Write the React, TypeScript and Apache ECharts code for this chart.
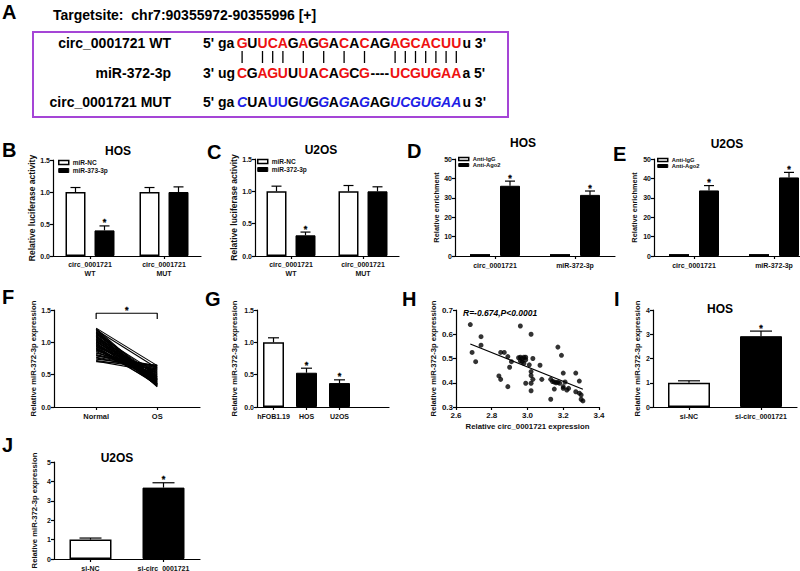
import React, { useEffect, useRef } from 'react';
import * as echarts from 'echarts';

const FONT = "'Liberation Sans', Arial, Helvetica, sans-serif";
const RED = '#ee1111';
const BLUE = '#1f1fe6';
const PURPLE = '#a545d6';

// ---------- Panel A ----------
const targetSite = 'Targetsite:  chr7:90355972-90355996 [+]';
const rowLabels = ['circ_0001721 WT', 'miR-372-3p', 'circ_0001721 MUT'];
const wtSeq = 'GUUCAGAGGACACAGAGCACUU';
const wtMask = 'rkrrrkrkrkrkrkkrrrrrrr';
const mirSeq = 'CGAGUUUACAGCG..UCGUGAA';
const mirMask = 'rkrrrkrkrkrkr..rrrrrrr';
const mutSeq = 'CUAUUGUGGAGAGAGUCGUGAA';
const mutMask = 'bkkBBkbkbkbkbkkbbbbbbb';
const pairPos = [1, 3, 4, 5, 7, 9, 11, 13, 16, 17, 18, 19, 20, 21, 22];

// ---------- Panel B ----------
const bCats = ['circ_0001721\nWT', 'circ_0001721\nMUT'];
const bNC = [1.0, 1.0];
const bNCErr = [0.07, 0.07];
const bMiR = [0.4, 1.0];
const bMiRErr = [0.07, 0.08];
const bStar = [1, 0];

// ---------- Panel C ----------
const cCats = ['circ_0001721\nWT', 'circ_0001721\nMUT'];
const cNC = [1.0, 1.0];
const cNCErr = [0.08, 0.09];
const cMiR = [0.32, 1.0];
const cMiRErr = [0.05, 0.07];
const cStar = [1, 0];

// ---------- Panel D ----------
const dCats = ['circ_0001721', 'miR-372-3p'];
const dIgG = [1, 1];
const dAgo = [36.2, 31.5];
const dAgoErr = [2.4, 2.0];
const dStar = [1, 1];

// ---------- Panel E ----------
const eCats = ['circ_0001721', 'miR-372-3p'];
const eIgG = [1, 1];
const eAgo = [33.8, 40.5];
const eAgoErr = [2.5, 2.6];
const eStar = [1, 1];

// ---------- Panel F ----------
const fCats = ['Normal', 'OS'];
const fNormal = [1.22, 1.21, 1.2, 1.19, 1.18, 1.17, 1.16, 1.15, 1.14, 1.13, 1.12, 1.11, 1.1, 1.09, 1.08, 1.07, 1.06, 1.05, 1.04, 1.03, 1.02, 1.01, 1.0, 0.99, 0.98, 0.97, 0.96, 0.95, 0.94, 0.93, 0.92, 0.91, 0.9, 0.89, 0.88, 0.87, 0.86, 0.84, 0.83, 0.81, 0.8, 0.79, 0.77, 0.76, 0.74, 0.72, 0.71, 0.7];
const fOS = [0.64, 0.38, 0.33, 0.6, 0.35, 0.42, 0.31, 0.47, 0.36, 0.4, 0.52, 0.34, 0.44, 0.38, 0.32, 0.49, 0.41, 0.36, 0.46, 0.33, 0.43, 0.39, 0.51, 0.35, 0.45, 0.37, 0.48, 0.42, 0.34, 0.53, 0.4, 0.44, 0.36, 0.5, 0.47, 0.55, 0.43, 0.58, 0.62, 0.6, 0.56, 0.64, 0.61, 0.57, 0.63, 0.59, 0.54, 0.65];
const fBracket = [1.36, 1.45];

// ---------- Panel G ----------
const gCats = ['hFOB1.19', 'HOS', 'U2OS'];
const gVals = [1.0, 0.53, 0.37];
const gErr = [0.07, 0.07, 0.05];
const gWhite = [1, 0, 0];
const gStar = [0, 1, 1];

// ---------- Panel H ----------
const hX = [2.68, 2.69, 2.74, 2.74, 2.71, 2.85, 2.87, 2.84, 2.85, 2.89, 2.9, 2.91, 2.89, 2.95, 2.96, 2.96, 2.98, 2.99, 2.96, 2.97, 2.98, 2.97, 2.99, 3.01, 3.02, 3.03, 3.02, 3.02, 3.03, 2.99, 3.02, 3.02, 3.07, 3.08, 3.17, 3.19, 3.2, 3.13, 3.14, 3.15, 3.16, 3.17, 3.18, 3.15, 3.13, 3.2, 3.21, 3.2, 3.22, 3.27, 3.27, 3.29, 3.29, 3.3, 3.3, 3.31, 3.23];
const hY = [0.64, 0.525, 0.59, 0.555, 0.487, 0.525, 0.525, 0.428, 0.414, 0.508, 0.464, 0.487, 0.384, 0.503, 0.634, 0.505, 0.505, 0.505, 0.49, 0.487, 0.48, 0.5, 0.495, 0.474, 0.6, 0.5, 0.446, 0.43, 0.414, 0.398, 0.398, 0.367, 0.472, 0.414, 0.547, 0.513, 0.44, 0.414, 0.405, 0.403, 0.4, 0.402, 0.398, 0.374, 0.332, 0.384, 0.403, 0.377, 0.37, 0.44, 0.363, 0.357, 0.407, 0.35, 0.332, 0.325, 0.377];
const hFitX = [2.68, 3.31];
const hFitY = [0.56, 0.373];
const hNote = 'R=-0.674,P<0.0001';

// ---------- Panel I ----------
const iCats = ['si-NC', 'si-circ_0001721'];
const iVals = [1.0, 2.92];
const iErr = [0.08, 0.21];
const iWhite = [1, 0];
const iStar = [0, 1];

// ---------- Panel J ----------
const jCats = ['si-NC', 'si-circ_0001721'];
const jVals = [1.0, 3.68];
const jErr = [0.08, 0.25];
const jWhite = [1, 0];
const jStar = [0, 1];

const WHITE = { color: '#fff', borderColor: '#000', borderWidth: 1.5 };
const BLACK = { color: '#000', borderColor: '#000', borderWidth: 1 };

function txt(x: number, y: number, text: string, size: number, o: any = {}) {
  const align = o.align || 'left';
  const va = o.va || 'middle';
  return {
    type: 'text', x, y, silent: true, z: 10,
    style: {
      text, fontSize: size, fontWeight: o.weight || 'bold', fontStyle: o.italic ? 'italic' : 'normal',
      fontFamily: FONT, fill: o.fill || '#000',
      align, verticalAlign: va, textAlign: align, textVerticalAlign: va,
    },
  };
}

function panelA() {
  const els: any[] = [];
  const X0 = 203, C0 = 237, CELL = 10.2;
  const rows = [43, 73, 102];
  els.push(txt(2, 12, 'A', 20));
  els.push(txt(53, 15, targetSite, 14));
  els.push({ type: 'rect', silent: true, shape: { x: 33, y: 32, width: 475, height: 85 }, style: { fill: 'none', stroke: PURPLE, lineWidth: 2 } });
  rowLabels.forEach((l, i) => els.push(txt(171, rows[i], l, 14, { align: 'right' })));
  const prefixes = ["5' ga", "3' ug", "5' ga"];
  const suffixes = ["u 3'", "a 5'", "u 3'"];
  const seqs = [wtSeq, mirSeq, mutSeq];
  const masks = [wtMask, mirMask, mutMask];
  seqs.forEach((s, r) => {
    els.push(txt(X0, rows[r], prefixes[r], 14));
    for (let i = 0; i < s.length; i++) {
      const ch = s[i];
      if (ch === '.') continue;
      const m = masks[r][i];
      const fill = m === 'r' ? RED : (m === 'b' || m === 'B') ? BLUE : '#000';
      els.push(txt(C0 + (i + 0.5) * CELL, rows[r], ch, 14, { align: 'center', fill, italic: m === 'b' }));
    }
    els.push(txt(C0 + s.length * CELL + 1, rows[r], suffixes[r], 14));
  });
  const gi = mirSeq.indexOf('.');
  els.push(txt(C0 + (gi + 1) * CELL, rows[1], '----', 14, { align: 'center' }));
  pairPos.forEach((p) => {
    const x = C0 + (p - 0.5) * CELL;
    els.push({ type: 'line', silent: true, shape: { x1: x, y1: 51, x2: x, y2: 63 }, style: { stroke: '#000', lineWidth: 1.3 } });
  });
  return els;
}

function starText(x: number, y: number, size: number) {
  return {
    type: 'text', x, y,
    style: { text: '*', fontSize: size, fontWeight: 'bold', fontFamily: FONT, fill: '#000', stroke: '#000', lineWidth: 0.3, align: 'center', verticalAlign: 'bottom', textAlign: 'center', textVerticalAlign: 'bottom' },
  };
}

function errSeries(axis: number, vals: number[], errs: number[], stars: number[], offset: number, cap: number, starSize = 9) {
  return {
    type: 'custom', xAxisIndex: axis, yAxisIndex: axis, silent: true, z: 4,
    data: vals.map((v, i) => [i, v, errs[i], stars[i] || 0]),
    renderItem: (params: any, api: any) => {
      const ci = api.value(0), v = api.value(1), e = api.value(2), s = api.value(3);
      const p0 = api.coord([ci, v]);
      const p1 = api.coord([ci, v + e]);
      const x = p0[0] + offset;
      const ls = { stroke: '#000', lineWidth: 1.2 };
      const children: any[] = [];
      if (e > 0) {
        children.push({ type: 'line', shape: { x1: x, y1: p0[1], x2: x, y2: p1[1] }, style: ls });
        children.push({ type: 'line', shape: { x1: x - cap / 2, y1: p1[1], x2: x + cap / 2, y2: p1[1] }, style: ls });
      }
      if (s) children.push(starText(x, p1[1] + 1, starSize));
      return { type: 'group', children };
    },
  };
}

const axLine = { show: true, onZero: false, lineStyle: { color: '#000', width: 1.2 } };
const axTick = { show: true, length: 3, lineStyle: { color: '#000', width: 1.2 } };

function yAx(grid: number, min: number, max: number, interval: number, name: string, nameSize: number, nameGap: number, dec: number, labelSize = 7) {
  return {
    type: 'value', gridIndex: grid, min, max, interval, name, nameLocation: 'middle', nameGap,
    nameTextStyle: { fontSize: nameSize, fontWeight: 'bold', fontFamily: FONT, color: '#111' },
    axisLine: axLine, axisTick: axTick, splitLine: { show: false },
    axisLabel: { fontSize: labelSize, fontWeight: 'bold', fontFamily: FONT, color: '#111', margin: 3, formatter: (v: number) => v.toFixed(dec) },
  };
}

function catX(grid: number, data: string[], extra: any = {}) {
  return {
    type: 'category', gridIndex: grid, data,
    axisLine: axLine,
    axisTick: { ...axTick, alignWithLabel: true, ...(extra.tick || {}) },
    axisLabel: { interval: 0, fontSize: 7, fontWeight: 'bold', fontFamily: FONT, color: '#111', margin: 4, lineHeight: 9, ...(extra.label || {}) },
    splitLine: { show: false },
    ...(extra.axis || {}),
  };
}

function legendCfg(left: number, top: number, names: string[], styles: any[], fontSize: number, gap: number, h = 4) {
  return {
    left, top, orient: 'vertical', icon: 'rect', itemWidth: 10, itemHeight: h, itemGap: gap, padding: 0,
    selectedMode: false,
    data: names.map((n, i) => ({ name: n, itemStyle: styles[i] })),
    textStyle: { fontSize, fontWeight: 'bold', fontFamily: FONT, color: '#111', padding: [0, 0, 0, -1] },
  };
}

function graphicEls() {
  return [
    ...panelA(),
    txt(2, 149.5, 'B', 20), txt(207, 152, 'C', 20), txt(407, 151, 'D', 20), txt(613, 154, 'E', 20),
    txt(2, 296.5, 'F', 20), txt(205, 298.5, 'G', 20), txt(402, 299, 'H', 20), txt(614, 299, 'I', 20),
    txt(2, 445, 'J', 20),
    txt(118, 151, 'HOS', 12, { align: 'center' }),
    txt(321, 150, 'U2OS', 12, { align: 'center' }),
    txt(523, 143, 'HOS', 12, { align: 'center' }),
    txt(727, 144, 'U2OS', 12, { align: 'center' }),
    txt(720, 309, 'HOS', 12, { align: 'center' }),
    txt(117, 458, 'U2OS', 12, { align: 'center' }),
    txt(463, 313, hNote, 8.5, { italic: true }),
  ];
}

function buildOption() {
  const grids = [
    { left: 53, top: 160, width: 148, height: 96 },
    { left: 255, top: 159, width: 144, height: 97 },
    { left: 455, top: 159, width: 160, height: 97 },
    { left: 654, top: 159, width: 160, height: 97 },
    { left: 54, top: 310, width: 146, height: 97 },
    { left: 257, top: 310, width: 132, height: 97 },
    { left: 456, top: 310, width: 143, height: 97 },
    { left: 653, top: 310, width: 144, height: 97 },
    { left: 54, top: 462, width: 146, height: 97 },
  ].map((g) => ({ ...g, containLabel: false, outerBoundsMode: 'none' }));

  const xAxis: any[] = [
    catX(0, bCats),
    catX(1, cCats),
    catX(2, dCats, { label: { margin: 5 } }),
    catX(3, eCats, { label: { margin: 5 } }),
    {
      type: 'value', gridIndex: 4, min: 0.31, max: 2.7,
      axisLine: axLine,
      axisTick: { ...axTick, customValues: [1, 2] },
      axisLabel: { customValues: [1, 2], fontSize: 7.5, fontWeight: 'bold', fontFamily: FONT, color: '#111', margin: 5, formatter: (v: number) => (Math.abs(v - 1) < 1e-6 ? fCats[0] : Math.abs(v - 2) < 1e-6 ? fCats[1] : '') },
      splitLine: { show: false },
    },
    catX(5, gCats, {
      axis: { max: 3 },
      label: { interval: (i: number) => i < 3, formatter: (v: any) => (v == null ? '' : v), margin: 5 },
      tick: { interval: (i: number) => i < 3 },
    }),
    {
      type: 'value', gridIndex: 6, min: 2.6, max: 3.4, interval: 0.2,
      name: 'Relative circ_0001721 expression', nameLocation: 'middle', nameGap: 15,
      nameTextStyle: { fontSize: 7.8, fontWeight: 'bold', fontFamily: FONT, color: '#111' },
      axisLine: axLine, axisTick: axTick, splitLine: { show: false },
      axisLabel: { fontSize: 8, fontWeight: 'bold', fontFamily: FONT, color: '#111', margin: 4, formatter: (v: number) => v.toFixed(1) },
    },
    catX(7, iCats, { label: { margin: 5 } }),
    catX(8, jCats, { label: { margin: 5 } }),
  ];

  const yAxis: any[] = [
    yAx(0, 0, 1.5, 0.5, 'Relative luciferase activity', 8.5, 15, 1),
    yAx(1, 0, 1.5, 0.5, 'Relative luciferase activity', 8.5, 17, 1),
    yAx(2, 0, 50, 10, 'Relative enrichment', 7.4, 15, 0),
    yAx(3, 0, 50, 10, 'Relative enrichment', 7.4, 16, 0),
    yAx(4, 0, 1.5, 0.5, 'Relative miR-372-3p expression', 7.7, 16, 1),
    yAx(5, 0, 1.5, 0.5, 'Relative miR-372-3p expression', 7.7, 19, 1),
    yAx(6, 0.3, 0.7, 0.1, 'Relative miR-372-3p expression', 7.7, 18, 1, 8),
    yAx(7, 0, 4, 1, 'Relative miR-372-3p expression', 7.7, 12, 0),
    yAx(8, 0, 5, 1, 'Relative miR-372-3p expression', 7.7, 16, 0),
  ];

  const series: any[] = [];
  const bar = (name: string, axis: number, data: any[], style: any, width: number, gap = '45%') => ({
    type: 'bar', name, xAxisIndex: axis, yAxisIndex: axis, data, barWidth: width, barGap: gap, itemStyle: style, silent: true, z: 2,
  });
  // B
  series.push(bar('miR-NC', 0, bNC, WHITE, 20));
  series.push(bar('miR-373-3p', 0, bMiR, BLACK, 20));
  series.push(errSeries(0, bNC, bNCErr, [0, 0], -14.5, 10));
  series.push(errSeries(0, bMiR, bMiRErr, bStar, 14.5, 10));
  // C
  series.push(bar('miR-NC', 1, cNC, WHITE, 20));
  series.push(bar('miR-372-3p', 1, cMiR, BLACK, 20));
  series.push(errSeries(1, cNC, cNCErr, [0, 0], -14.5, 10));
  series.push(errSeries(1, cMiR, cMiRErr, cStar, 14.5, 10));
  // D
  series.push(bar('Anti-IgG', 2, dIgG, WHITE, 20, '50%'));
  series.push(bar('Anti-Ago2', 2, dAgo, BLACK, 20, '50%'));
  series.push(errSeries(2, dAgo, dAgoErr, dStar, 15, 10));
  // E
  series.push(bar('Anti-IgG', 3, eIgG, WHITE, 20, '50%'));
  series.push(bar('Anti-Ago2', 3, eAgo, BLACK, 20, '50%'));
  series.push(errSeries(3, eAgo, eAgoErr, eStar, 15, 10));
  // F
  fNormal.forEach((n, i) => {
    series.push({
      type: 'line', xAxisIndex: 4, yAxisIndex: 4, data: [[1, n], [2, fOS[i]]], symbol: 'none', silent: true,
      color: '#000', lineStyle: { color: '#000', width: 1.1 }, z: 2,
    });
  });
  series.push({
    type: 'line', xAxisIndex: 4, yAxisIndex: 4, symbol: 'none', silent: true, color: '#000',
    data: [[1, fBracket[0]], [1, fBracket[1]], [2, fBracket[1]], [2, fBracket[0]]],
    lineStyle: { color: '#000', width: 1.2 },
  });
  // G
  series.push(bar('G', 5, gVals.map((v, i) => ({ value: v, itemStyle: gWhite[i] ? WHITE : BLACK })), {}, 21));
  series.push(errSeries(5, gVals, gErr, gStar, 0, 11));
  // H
  series.push({
    type: 'scatter', xAxisIndex: 6, yAxisIndex: 6, silent: true, symbolSize: 5,
    data: hX.map((x, i) => [x, hY[i]]), itemStyle: { color: '#000' },
  });
  series.push({
    type: 'line', xAxisIndex: 6, yAxisIndex: 6, silent: true, symbol: 'none', color: '#000',
    data: hFitX.map((x, i) => [x, hFitY[i]]), lineStyle: { color: '#000', width: 1.2 },
  });
  // I
  series.push(bar('I', 7, iVals.map((v, i) => ({ value: v, itemStyle: iWhite[i] ? WHITE : BLACK })), {}, 42));
  series.push(errSeries(7, iVals, iErr, iStar, 0, 22));
  // J
  series.push(bar('J', 8, jVals.map((v, i) => ({ value: v, itemStyle: jWhite[i] ? WHITE : BLACK })), {}, 42));
  series.push(errSeries(8, jVals, jErr, jStar, 0, 22));

  const legend = [
    legendCfg(58, 159, ['miR-NC', 'miR-373-3p'], [WHITE, BLACK], 6.5, 1),
    legendCfg(257, 158, ['miR-NC', 'miR-372-3p'], [WHITE, BLACK], 6.5, 1),
    legendCfg(458, 156, ['Anti-IgG', 'Anti-Ago2'], [WHITE, BLACK], 5.8, 0, 3),
    legendCfg(657, 157, ['Anti-IgG', 'Anti-Ago2'], [WHITE, BLACK], 5.8, 0, 3),
  ];

  return {
    animation: false,
    backgroundColor: '#fff',
    textStyle: { fontFamily: FONT },
    grid: grids,
    xAxis,
    yAxis,
    legend,
    series,
    graphic: { elements: graphicEls() },
  };
}

export default function App() {
  const ref = useRef<HTMLDivElement>(null);
  useEffect(() => {
    if (!ref.current) return;
    const chart = echarts.init(ref.current, null, { renderer: 'svg' });
    chart.setOption(buildOption() as any);
    // significance star over the F bracket, placed through the F axes
    const p = chart.convertToPixel({ xAxisIndex: 4, yAxisIndex: 4 } as any, [1.5, fBracket[1]]) as number[];
    if (p && isFinite(p[0])) {
      chart.setOption({
        graphic: { elements: [...graphicEls(), { ...starText(p[0], p[1] + 1, 9), silent: true, z: 10 }] },
      } as any);
    }
    return () => chart.dispose();
  }, []);
  return <div ref={ref} style={{ position: 'absolute', left: 0, top: 0, width: 800, height: 571, background: '#fff' }} />;
}
